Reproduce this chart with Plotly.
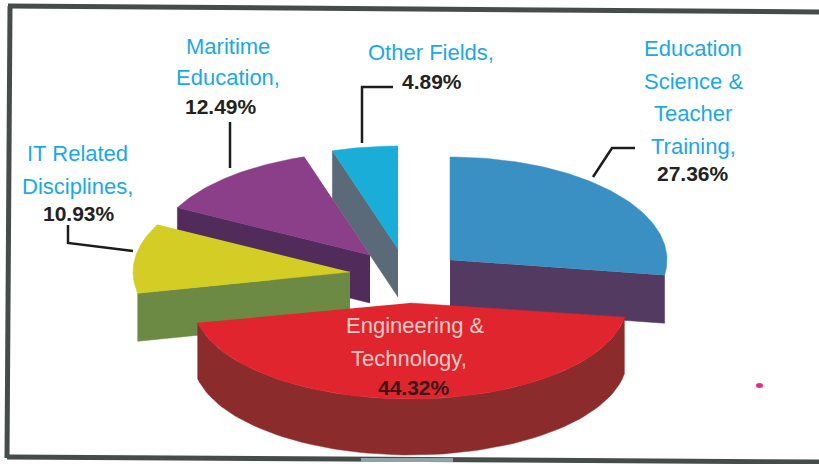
import numpy as np
import plotly.graph_objects as go

categories = ["Education Science & Teacher Training", "Engineering & Technology",
              "IT Related Disciplines", "Maritime Education", "Other Fields"]
shares = [27.36, 44.32, 10.93, 12.49, 4.89]
share_labels = ["27.36%", "44.32%", "10.93%", "12.49%", "4.89%"]

top_colors = ["#3A8FC3", "#E0252F", "#D3CD25", "#8A3F88", "#1AADD8"]
side_colors = ["#533A60", "#8C2B2B", "#6C8A44", "#512C5A", "#5A6A78"]
centers = [(450, 260), (410, 303), (350, 272), (370, 255), (398, 249)]
radii_y = [103, 96, 103, 103, 103]
RX = 217
DEPTH = 48

edges = np.cumsum([0] + shares) / sum(shares) * 2 * np.pi
fig = go.Figure()


def pt(c, ry, t):
    return c[0] + RX * np.sin(t), c[1] - ry * np.cos(t)


def add_poly(xs, ys, color, name):
    fig.add_trace(go.Scatter(x=list(xs), y=list(ys), mode="lines", fill="toself",
                             fillcolor=color, line=dict(color=color, width=0.5),
                             name=name, hoverinfo="name", showlegend=False))


def cut_face(i, t):
    c, ry = centers[i], radii_y[i]
    x, y = pt(c, ry, t)
    add_poly([c[0], x, x, c[0]], [c[1], y, y + DEPTH, c[1] + DEPTH], side_colors[i], categories[i])


def rim(i):
    c, ry = centers[i], radii_y[i]
    t = np.linspace(edges[i], edges[i + 1], 80)
    x, y = pt(c, ry, t)
    add_poly(np.r_[x, x[::-1]], np.r_[y, y[::-1] + DEPTH + 8], side_colors[i], categories[i])


def top(i):
    c, ry = centers[i], radii_y[i]
    t = np.linspace(edges[i], edges[i + 1], 80)
    x, y = pt(c, ry, t)
    add_poly(np.r_[c[0], x], np.r_[c[1], y], top_colors[i], categories[i])


# back-to-front painting
cut_face(4, edges[4]); top(4)
cut_face(3, edges[3]); top(3)
cut_face(0, edges[1]); top(0)
cut_face(2, edges[2]); top(2)
rim(1); top(1)

leaders = [([593, 612, 635], [177, 148, 148]),
           ([362, 362, 393], [143, 87, 87]),
           ([230, 230], [168, 122]),
           ([68, 68, 133], [225, 243, 251])]
for lx, ly in leaders:
    fig.add_trace(go.Scatter(x=lx, y=ly, mode="lines", line=dict(color="#1c1c1c", width=2.5),
                             hoverinfo="skip", showlegend=False))

CYAN = "#1BA8E8"
DARK = "#222222"
label_lines = [
    (693, 48, "Education", CYAN, False), (693, 81, "Science &", CYAN, False),
    (693, 113, "Teacher", CYAN, False), (693, 146, "Training,", CYAN, False),
    (693, 173, share_labels[0], DARK, True),
    (431, 52, "Other Fields,", CYAN, False), (432, 81, share_labels[4], DARK, True),
    (228, 46, "Maritime", CYAN, False), (228, 77, "Education,", CYAN, False),
    (221, 106, share_labels[3], DARK, True),
    (77, 153, "IT Related", CYAN, False), (77, 186, "Disciplines,", CYAN, False),
    (79, 213, share_labels[2], DARK, True),
    (415, 325, "Engineering &", "#F2C9C4", False), (409, 358, "Technology,", "#F2C9C4", False),
    (414, 387, share_labels[1], "#3A1616", True),
]
annotations = [dict(x=x, y=y, text=f"<b>{s}</b>" if b else s, showarrow=False,
                    xanchor="center", yanchor="middle",
                    font=dict(family="Liberation Sans", size=22 if not b else 21, color=col))
               for x, y, s, col, b in label_lines]

frame = dict(type="line", xref="x", yref="y", line=dict(color="#454C4A", width=5))
shapes = [dict(frame, x0=8, y0=6, x1=819, y1=12),
          dict(frame, x0=10, y0=6, x1=7, y1=458),
          dict(frame, x0=7, y0=457, x1=819, y1=462),
          dict(type="line", x0=361, y0=460, x1=453, y1=460, xref="x", yref="y",
               line=dict(color="#8FA3A6", width=4)),
          dict(type="circle", x0=756, y0=383, x1=763, y1=388, xref="x", yref="y",
               fillcolor="#EE2A7B", line=dict(width=0))]

fig.update_layout(width=819, height=464, margin=dict(l=0, r=0, t=0, b=0),
                  paper_bgcolor="#FFFFFF", plot_bgcolor="#FFFFFF",
                  xaxis=dict(range=[0, 819], visible=False, fixedrange=True),
                  yaxis=dict(range=[464, 0], visible=False, fixedrange=True),
                  annotations=annotations, shapes=shapes, showlegend=False)
fig.write_html("out.html", config={"displayModeBar": False},
               post_script="document.body.style.margin='0';document.documentElement.style.overflow='hidden';")
